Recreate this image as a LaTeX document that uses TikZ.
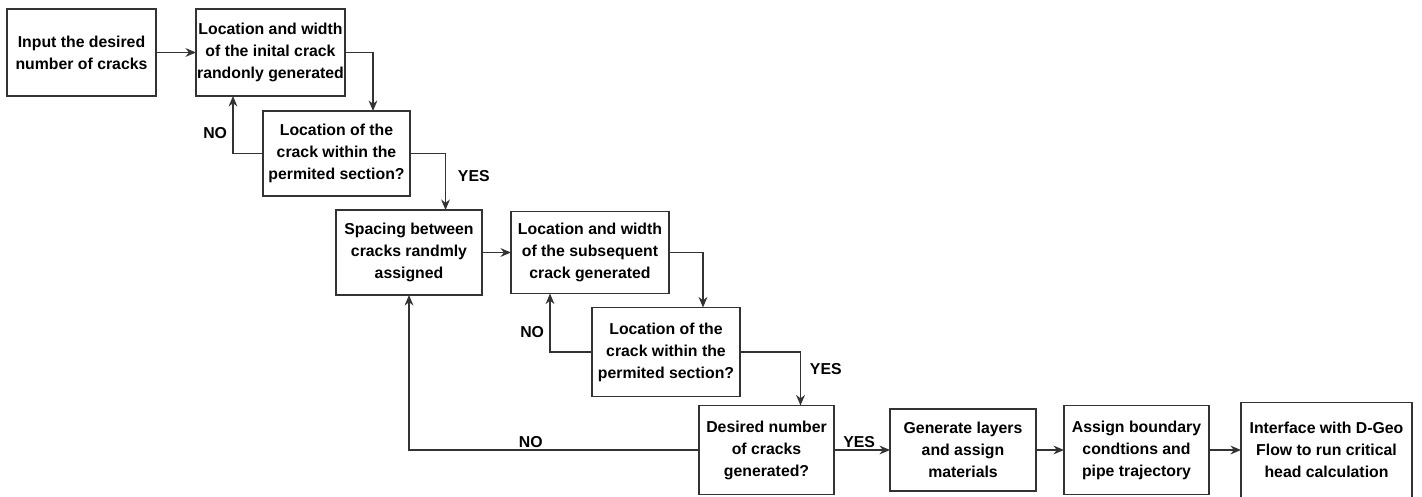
\documentclass[tikz,border=0pt]{standalone}
\usepackage{fontspec}
\setmainfont{Liberation Sans}
\usetikzlibrary{positioning,arrows.meta}

\begin{document}
\begin{tikzpicture}[
    font=\fontsize{9}{12.5}\selectfont\bfseries,
    node distance=0.6cm,
    box/.style={draw=black!80, line width=0.8pt, align=center, minimum width=2.98cm, minimum height=1.74cm, inner sep=0.5pt, outer sep=0pt},
    arr/.style={-{Stealth[length=6pt,width=5pt]}, draw=black!80, line width=0.8pt},
    lbl/.style={inner sep=1pt}
]
\useasboundingbox (0,0) rectangle (28.44,-9.94);

% First row: input and initial crack
\node (input) [box] at (1.63,-1.05) {Input the desired\\number of cracks};
\node (loc1) [box, right=0.8cm of input] {Location and width\\of the inital crack\\randonly generated};

% First check
\node (chk1) [box, minimum width=2.94cm, minimum height=1.70cm, below right=0.3cm and -1.64cm of loc1] {Location of the\\crack within the\\permited section?};

% Spacing and subsequent crack
\node (spacing) [box, minimum width=2.92cm, minimum height=1.70cm, below right=0.28cm and -1.48cm of chk1] {Spacing between\\cracks randmly\\assigned};
\node (loc2) [box, minimum width=3.16cm, minimum height=1.64cm, right=0.58cm of spacing] {Location and width\\of the subsequent\\crack generated};

% Second check
\node (chk2) [box, minimum width=2.96cm, minimum height=1.78cm, below right=0.28cm and -1.54cm of loc2] {Location of the\\crack within the\\permited section?};

% Bottom row
\node (desired) [box, minimum width=2.70cm, minimum height=1.78cm, below right=0.18cm and -0.82cm of chk2] {Desired number\\of cracks\\generated?};
\node (layers) [box, minimum width=2.92cm, minimum height=1.64cm, right=1.12cm of desired] {Generate layers\\and assign\\materials};
\node (bound) [box, minimum width=2.90cm, minimum height=1.78cm, right=0.56cm of layers] {Assign boundary\\condtions and\\pipe trajectory};
\node (dgeo) [box, minimum width=3.42cm, minimum height=1.90cm, right=0.64cm of bound] {Interface with D-Geo\\Flow to run critical\\head calculation};

% Arrows
\draw[arr] (input) -- (loc1);
\draw[arr] (loc1.east) -| ([xshift=0.73cm]chk1.north);
\draw[arr] (chk1.west) -| node[lbl, pos=0.68, left=2pt] {NO} ([xshift=0.74cm]loc1.south west);
\draw[arr] (chk1.east) -| node[lbl, pos=0.7, right=0.2cm] {YES} ([xshift=0.73cm]spacing.north);
\draw[arr] (spacing) -- (loc2);
\draw[arr] (loc2.east) -| ([xshift=0.74cm]chk2.north);
\draw[arr] (chk2.west) -| node[lbl, pos=0.67, left=2pt] {NO} ([xshift=0.78cm]loc2.south west);
\draw[arr] (chk2.east) -| node[lbl, pos=0.66, right=0.14cm] {YES} ([xshift=0.68cm]desired.north);
\draw[arr] (desired.west) -| node[lbl, pos=0.29, above] {NO} (spacing.south);
\draw[arr] (desired) -- node[lbl, pos=0.45, above] {YES} (layers);
\draw[arr] (layers) -- (bound);
\draw[arr] (bound) -- (dgeo);

\end{tikzpicture}
\end{document}
